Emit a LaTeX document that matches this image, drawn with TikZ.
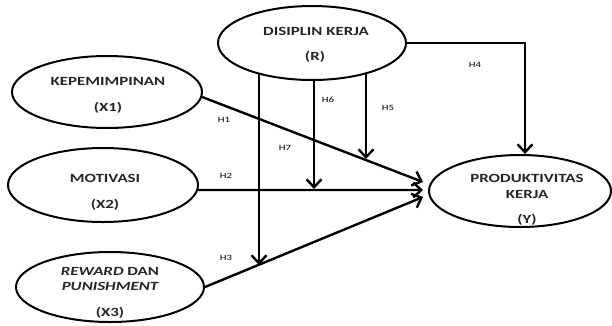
\documentclass[tikz,border=0pt]{standalone}
\usepackage{fontspec}
\newfontfamily\lab[FakeStretch=1.35]{Carlito}
\usetikzlibrary{shapes.geometric,arrows.meta,backgrounds}
\begin{document}
\begin{tikzpicture}[x=1pt,y=-1pt,
  var/.style={draw,ellipse,line width=2pt,fill=white,inner sep=0pt},
  txt/.style={font=\lab\bfseries\fontsize{12.5}{14}\selectfont,inner sep=0pt,text=black!85},
  hl/.style={font=\lab\fontsize{8}{9}\selectfont,inner sep=0pt},
  arr/.style={line width=2.4pt,-{Straight Barb[length=8pt,width=15pt]}}]
\useasboundingbox (0,0) rectangle (612,325);
% ellipses
\node[var,minimum width=190pt,minimum height=72pt] (K) at (107,92) {};
\node[var,minimum width=188pt,minimum height=74pt] (R) at (312,43) {};
\node[var,minimum width=190pt,minimum height=74pt] (M) at (103,185) {};
\node[var,minimum width=188pt,minimum height=70pt] (X) at (110,287) {};
\node[var,minimum width=182pt,minimum height=72pt] (P) at (520,191) {};
% texts
\node[txt] (k1) at (108,81) {KEPEMIMPINAN};
\node[txt] (k2) at (108,108) {(X1)};
\node[txt] (r1) at (316,31) {DISIPLIN KERJA};
\node[txt] (r2) at (315,57) {(R)};
\node[txt] (m1) at (105,178) {MOTIVASI};
\node[txt] (m2) at (105,205) {(X2)};
\node[txt] (x1) at (110,271) {\itshape REWARD\upshape{} DAN};
\node[txt] (x2) at (110,286) {\itshape PUNISHMENT};
\node[txt] (x3) at (110,313) {(X3)};
\node[txt] (p1) at (527,178) {PRODUKTIVITAS};
\node[txt] (p2) at (527,194) {KERJA};
\node[txt] (p3) at (527,220) {(Y)};
% hypothesis labels
\node[hl] (l1) at (224,120) {H1};
\node[hl] (l2) at (226,176) {H2};
\node[hl] (l3) at (226,258) {H3};
\node[hl] (l4) at (475,65) {H4};
\node[hl] (l5) at (388,108) {H5};
\node[hl] (l6) at (328,100) {H6};
\node[hl] (l7) at (285,148) {H7};
% arrow end points
\coordinate (t1) at (423,182);
\coordinate (t2) at (423,190);
\coordinate (t3) at (423,197);
\coordinate (h5) at (366,159);
\coordinate (h6) at (314,189);
\coordinate (h7) at (259,265);
\begin{scope}[on background layer]
\draw[arr] (K.-3) -- (t1);
\draw[arr] (M.-3) -- (t2);
\draw[arr] (X.east) -- (t3);
\draw[arr] (R.east) -| ([xshift=5pt]P.north);
\draw[arr] (R.center -| h5) -- (h5);
\draw[arr] (R.center -| h6) -- (h6);
\draw[arr] (R.center -| h7) -- (h7);
\end{scope}
\end{tikzpicture}
\end{document}
